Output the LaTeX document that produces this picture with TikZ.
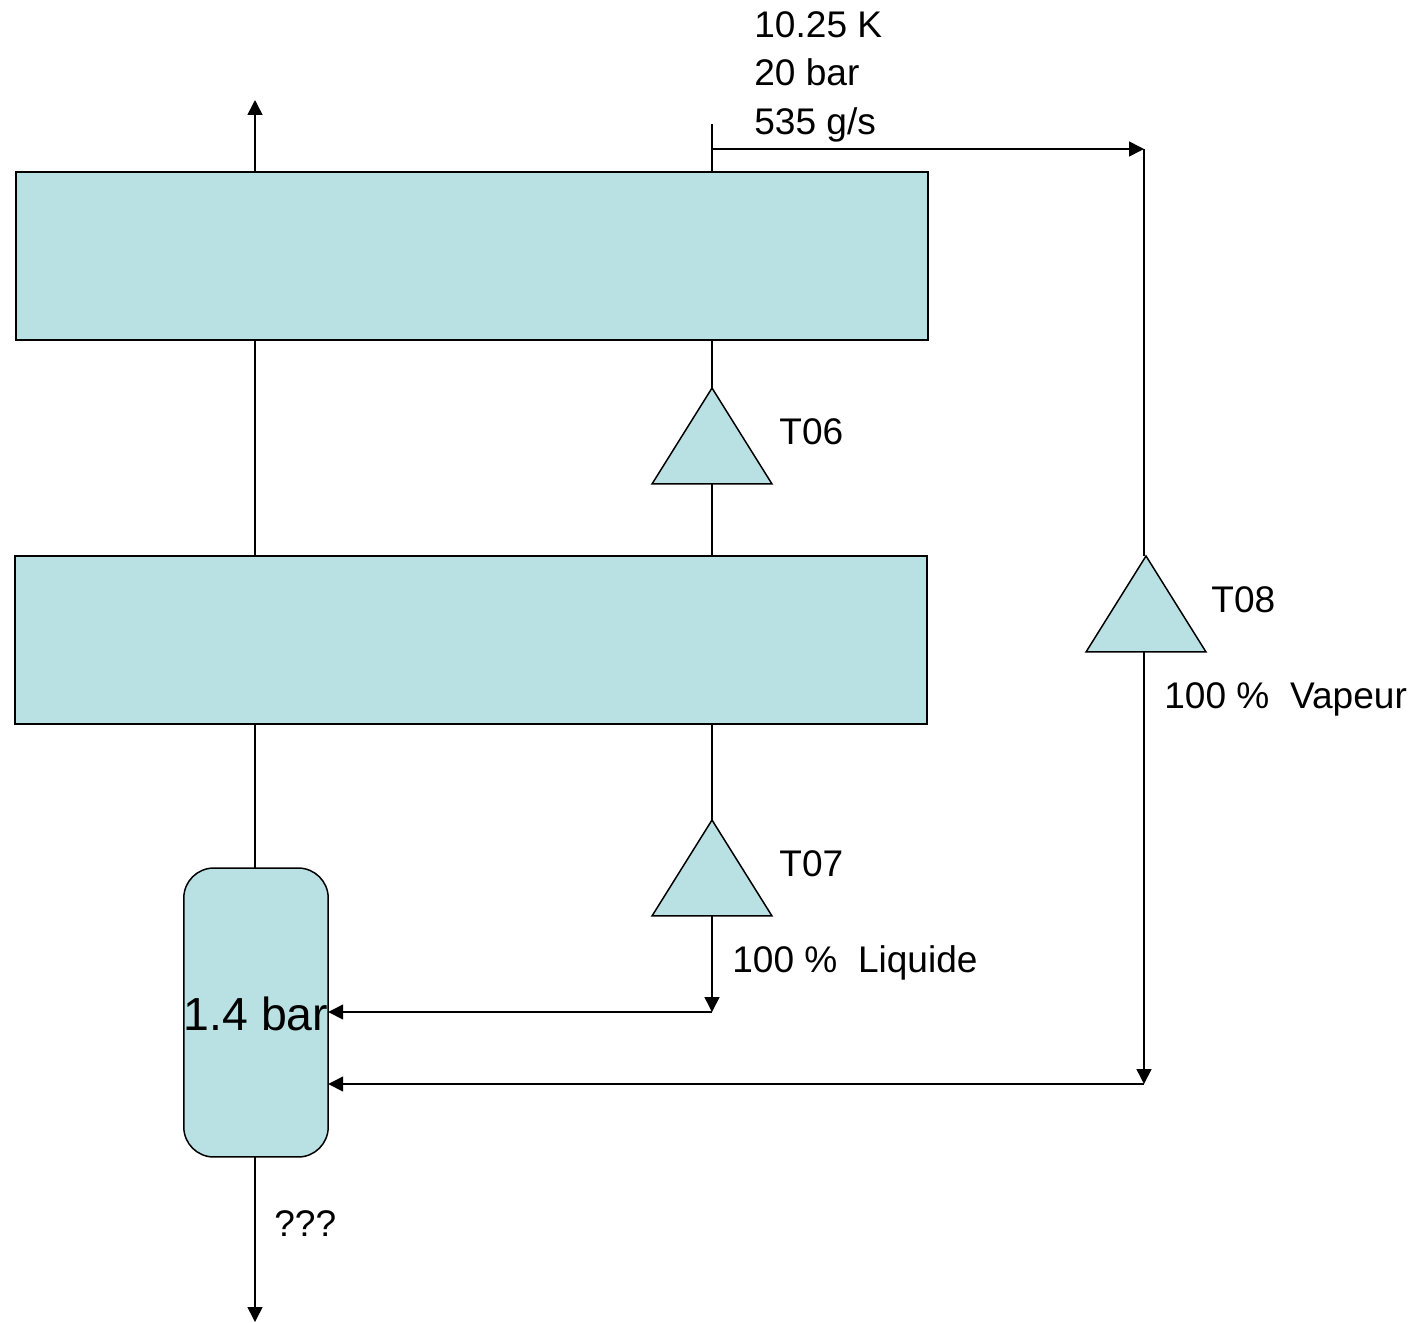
\documentclass[tikz,border=0pt]{standalone}
\usepackage{fontspec}
\setmainfont{Liberation Sans}
\usepackage{xcolor}
\usetikzlibrary{arrows.meta,shapes.geometric}
\definecolor{bleu}{RGB}{185,224,227}
\tikzset{
  echangeur/.style={rectangle,draw=black,fill=bleu,line width=0.85pt,outer sep=0pt,inner sep=0pt,minimum width=18.24cm,minimum height=3.36cm},
  bain/.style={rectangle,rounded corners=0.6cm,draw=black,fill=bleu,line width=0.85pt,outer sep=0pt,inner sep=0pt,minimum width=2.88cm,minimum height=5.78cm,text height=0.7cm,text depth=0cm,font=\fontsize{26.4}{30}\selectfont},
  turbine/.style={isosceles triangle,isosceles triangle stretches,shape border rotate=90,draw=black,fill=bleu,line width=0.85pt,outer sep=0pt,inner sep=0pt,minimum width=2.4cm,minimum height=1.92cm,anchor=apex},
  lab/.style={anchor=base west,inner sep=0pt,font=\fontsize{21.1}{25}\selectfont},
  flux/.style={line width=0.85pt,-{Triangle[length=8.5pt,width=8.5pt]}},
  tuyau/.style={line width=0.85pt}
}
\begin{document}
\begin{tikzpicture}[x=0.02cm,y=-0.02cm]
\useasboundingbox (0,0) rectangle (1426,1322);
\node[echangeur] (hxA) at (472,256){};
\node[echangeur] (hxB) at (471,640){};
\node[bain] (tank) at (256,1012.5){1.4 bar};
\node[turbine] (T06) at (712,388){};
\node[turbine] (T07) at (712,820){};
\node[turbine] (T08) at (1146,556){};
\coordinate (haut) at (255,100); \coordinate (bas) at (255,1322);
\coordinate (entree) at (712,124); \coordinate (coude) at (712,149); \coordinate (angle) at (1144,149);
\coordinate (liq) at (712,1012); \coordinate (vap) at (1144,1084);
% lignes
\draw[flux] (haut |- hxA.north)--(haut);
\draw[tuyau] (haut |- hxA.south)--(haut |- hxB.north);
\draw[tuyau] (haut |- hxB.south)--(haut |- tank.north);
\draw[flux] (haut |- tank.south)--(bas);
\draw[tuyau] (entree)--(entree |- hxA.north);
\draw[tuyau] (entree |- hxA.south)--(T06.apex);
\draw[tuyau] (T06.lower side)--(entree |- hxB.north);
\draw[tuyau] (entree |- hxB.south)--(T07.apex);
\draw[flux] (T07.lower side)--(liq);
\draw[flux] (liq)--(tank.east |- liq);
\draw[flux] (coude)--(angle);
\draw[tuyau] (angle)--(angle |- T08.apex);
\draw[flux] (angle |- T08.lower side)--(vap);
\draw[flux] (vap)--(tank.east |- vap);
% textes
\node[lab] (tA) at (754,37){10.25 K};
\node[lab] (tB) at (754,85){20 bar};
\node[lab] (tC) at (754,134){535 g/s};
\node[lab] (l06) at (779,444){T06};
\node[lab] (l07) at (779,876){T07};
\node[lab] (l08) at (1211,612){T08};
\node[lab] (pl) at (732,972){100 \%\ \ Liquide};
\node[lab] (pv) at (1164,708){100 \%\ \ Vapeur};
\node[lab] (pq) at (274,1236){???};
\end{tikzpicture}
\end{document}
